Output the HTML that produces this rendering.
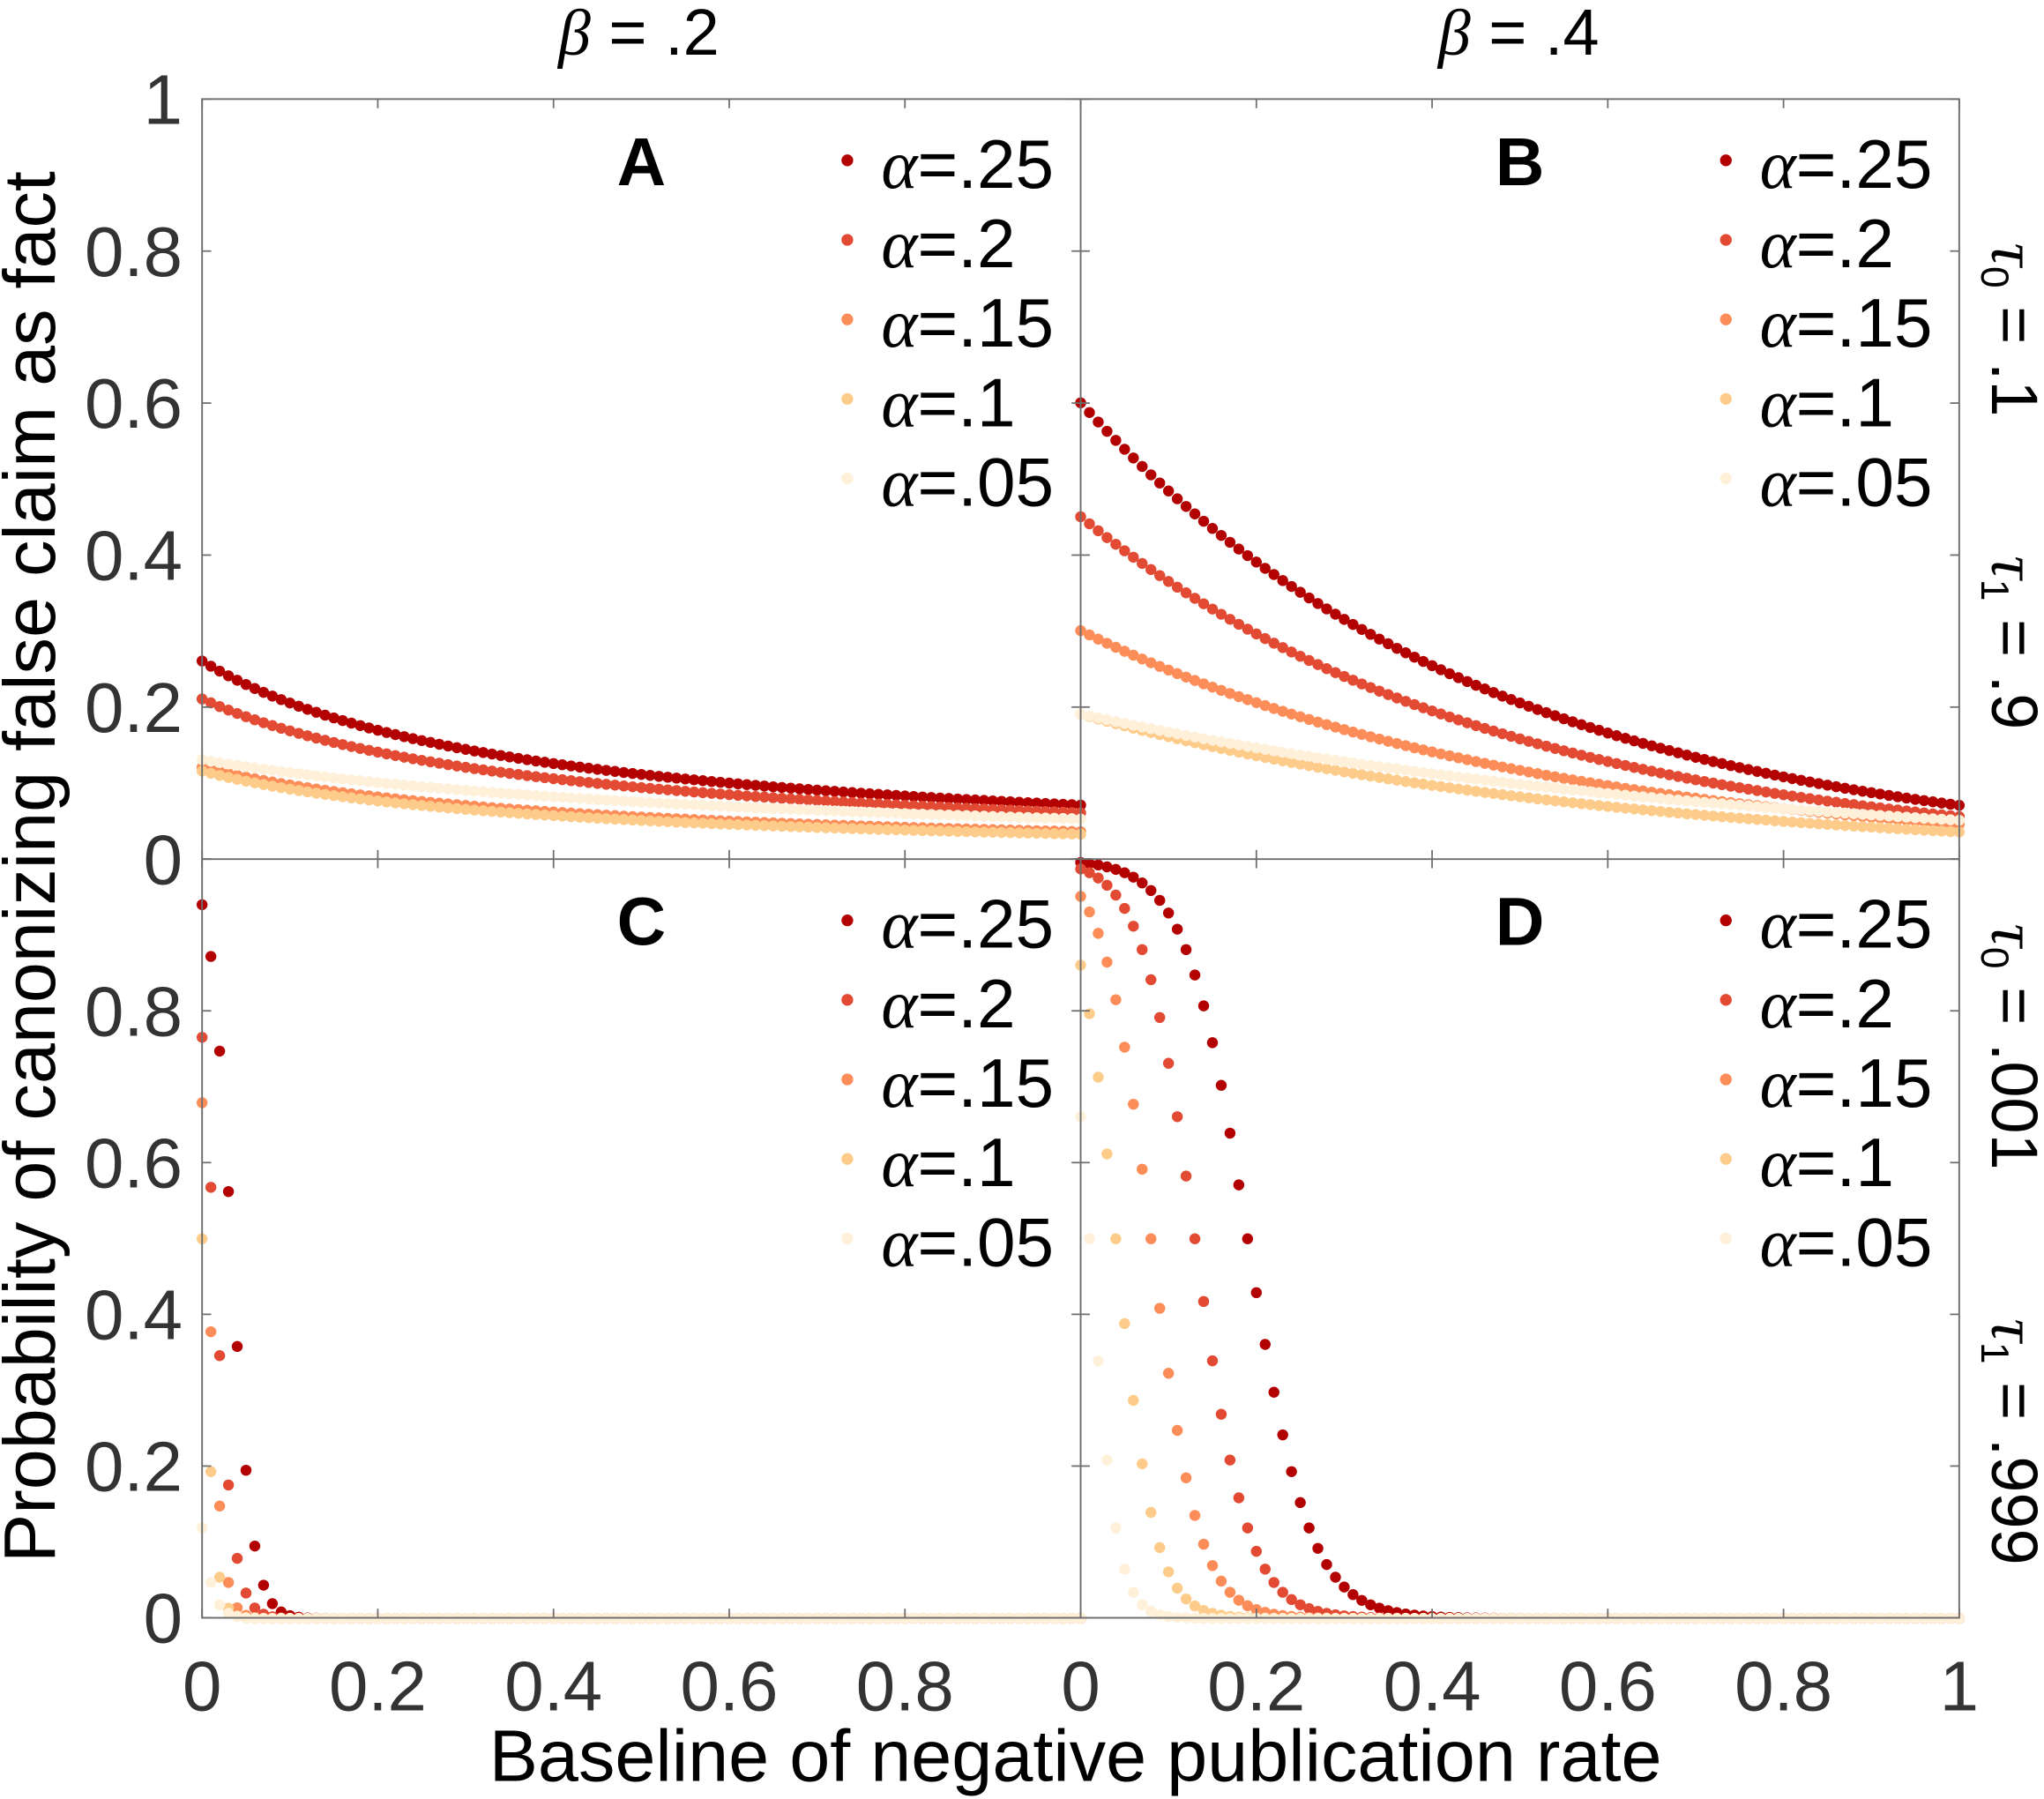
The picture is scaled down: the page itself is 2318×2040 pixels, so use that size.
<!DOCTYPE html>
<html><head><meta charset="utf-8"><style>
html,body{margin:0;padding:0;background:#fff;}
svg{display:block;}
text{font-family:"Liberation Sans",sans-serif;}
</style></head><body>
<svg id="s" width="2318" height="2040" viewBox="0 0 1568 1380" xmlns="http://www.w3.org/2000/svg">
<rect width="1568" height="1380" fill="#fff"/>
<g id="dots"></g>
<g id="frame" fill="none" stroke="#6e6e6e" stroke-width="1.3">
<rect x="155" y="76" width="1348" height="1165"/>
<line x1="829" y1="76" x2="829" y2="1241"/>
<line x1="155" y1="659" x2="1503" y2="659"/>
</g>
<g id="ticks" stroke="#6e6e6e" stroke-width="1.2"></g>
<g id="labels" font-size="54" fill="#333" text-anchor="end"></g>
<g font-size="50" fill="#000">
<text x="490" y="42" text-anchor="middle"><tspan font-family="Liberation Serif" font-style="italic">β</tspan> = .2</text>
<text x="1165" y="42" text-anchor="middle"><tspan font-family="Liberation Serif" font-style="italic">β</tspan> = .4</text>
<text x="825" y="1366" text-anchor="middle" font-size="56">Baseline of negative publication rate</text>
<text transform="translate(42,665) rotate(-90)" text-anchor="middle" font-size="56">Probability of canonizing false claim as fact</text>
<text transform="translate(1528,253) rotate(90)" text-anchor="middle"><tspan font-family="Liberation Serif" font-style="italic">τ</tspan><tspan font-size="30" dy="8">0</tspan><tspan dy="-8"> = .1</tspan></text>
<text transform="translate(1528,493) rotate(90)" text-anchor="middle"><tspan font-family="Liberation Serif" font-style="italic">τ</tspan><tspan font-size="30" dy="8">1</tspan><tspan dy="-8"> = .9</tspan></text>
<text transform="translate(1528,803) rotate(90)" text-anchor="middle"><tspan font-family="Liberation Serif" font-style="italic">τ</tspan><tspan font-size="30" dy="8">0</tspan><tspan dy="-8"> = .001</tspan></text>
<text transform="translate(1528,1106) rotate(90)" text-anchor="middle"><tspan font-family="Liberation Serif" font-style="italic">τ</tspan><tspan font-size="30" dy="8">1</tspan><tspan dy="-8"> = .999</tspan></text>
</g>
<g id="legend"></g>
</svg>
<script>
var NS="http://www.w3.org/2000/svg";
function el(t,a,p,txt){var e=document.createElementNS(NS,t);for(var k in a)e.setAttribute(k,a[k]);if(txt!=null)e.textContent=txt;p.appendChild(e);return e;}
var cols=["#b30000","#e34a33","#fc8d59","#fdcc8a","#fef0d9"];
var names=[".25",".2",".15",".1",".05"];
var panels=[{x0:155,y0:76},{x0:829,y0:76},{x0:155,y0:659},{x0:829,y0:659}];
var W=674,H=582.5;
var fA=[[0.26,2.7],[0.21,2.5],[0.12,2.4],[0.115,2.6],[0.13,1.5]];
var fB=[[0.6,2.15],[0.45,2.1],[0.3,1.9],[0.19,1.7],[0.19,1.33]];
var fC=[[0.033,0.012],[0.013,0.011],[0.006,0.008],[0.0,0.007],[-0.02,0.01]];
var fD=[[0.19,0.035],[0.13,0.03],[0.08,0.027],[0.04,0.022],[0.01,0.015]];
function val(p,s,x){
 if(p==0){var a=fA[s];return a[0]/(1+a[1]*x);}
 if(p==1){var b=fB[s];return b[0]*Math.exp(-b[1]*x);}
 var c=(p==2?fC:fD)[s];return 1/(1+Math.exp((x-c[0])/c[1]));
}
var dg=document.getElementById("dots");
for(var p=0;p<4;p++){var P=panels[p];
 for(var s=0;s<5;s++){
  for(var i=0;i<=100;i++){var x=i/100;var v=val(p,s,x);
   el("circle",{cx:P.x0+x*W,cy:P.y0+(1-v)*H,r:4.2,fill:cols[s]},dg);}
 }
 var lg=document.getElementById("legend");
 var lx=P.x0+495, ly=P.y0+52;
 el("text",{x:P.x0+337,y:P.y0+66,"font-size":52,"font-weight":"bold","text-anchor":"middle",fill:"#000"},lg,"ABCD"[p]);
 for(var s=0;s<5;s++){
  el("circle",{cx:lx,cy:ly+s*61-5,r:4.5,fill:cols[s]},lg);
  var t=el("text",{x:lx+26,y:ly+s*61+16,"font-size":53,fill:"#000"},lg);
  el("tspan",{"font-family":"Liberation Serif","font-style":"italic"},t,"α");
  el("tspan",{},t,"="+names[s]);
 }
}
var tg=document.getElementById("ticks"),lb=document.getElementById("labels");
var yl=["0","0.2","0.4","0.6","0.8","1"];
for(var k=0;k<=5;k++){
 var yy=[659-k*116.6,1241-k*116.4];
 yy.forEach(function(y,j){
  el("line",{x1:155,y1:y,x2:162,y2:y},tg);el("line",{x1:829,y1:y,x2:822,y2:y},tg);
  el("line",{x1:829,y1:y,x2:836,y2:y},tg);el("line",{x1:1503,y1:y,x2:1496,y2:y},tg);
  if(!(j==1&&k==5)) el("text",{x:140,y:y+19},lb,yl[k]);
 });
 [155,829].forEach(function(x0,j){var x=x0+k*134.8;
  el("line",{x1:x,y1:1241,x2:x,y2:1234},tg);el("line",{x1:x,y1:659,x2:x,y2:666},tg);
  el("line",{x1:x,y1:659,x2:x,y2:652},tg);el("line",{x1:x,y1:76,x2:x,y2:83},tg);
  if(j==1||k<5) el("text",{x:x,y:1312,"text-anchor":"middle"},lb,yl[k]);
 });
}
</script>
</body></html>
